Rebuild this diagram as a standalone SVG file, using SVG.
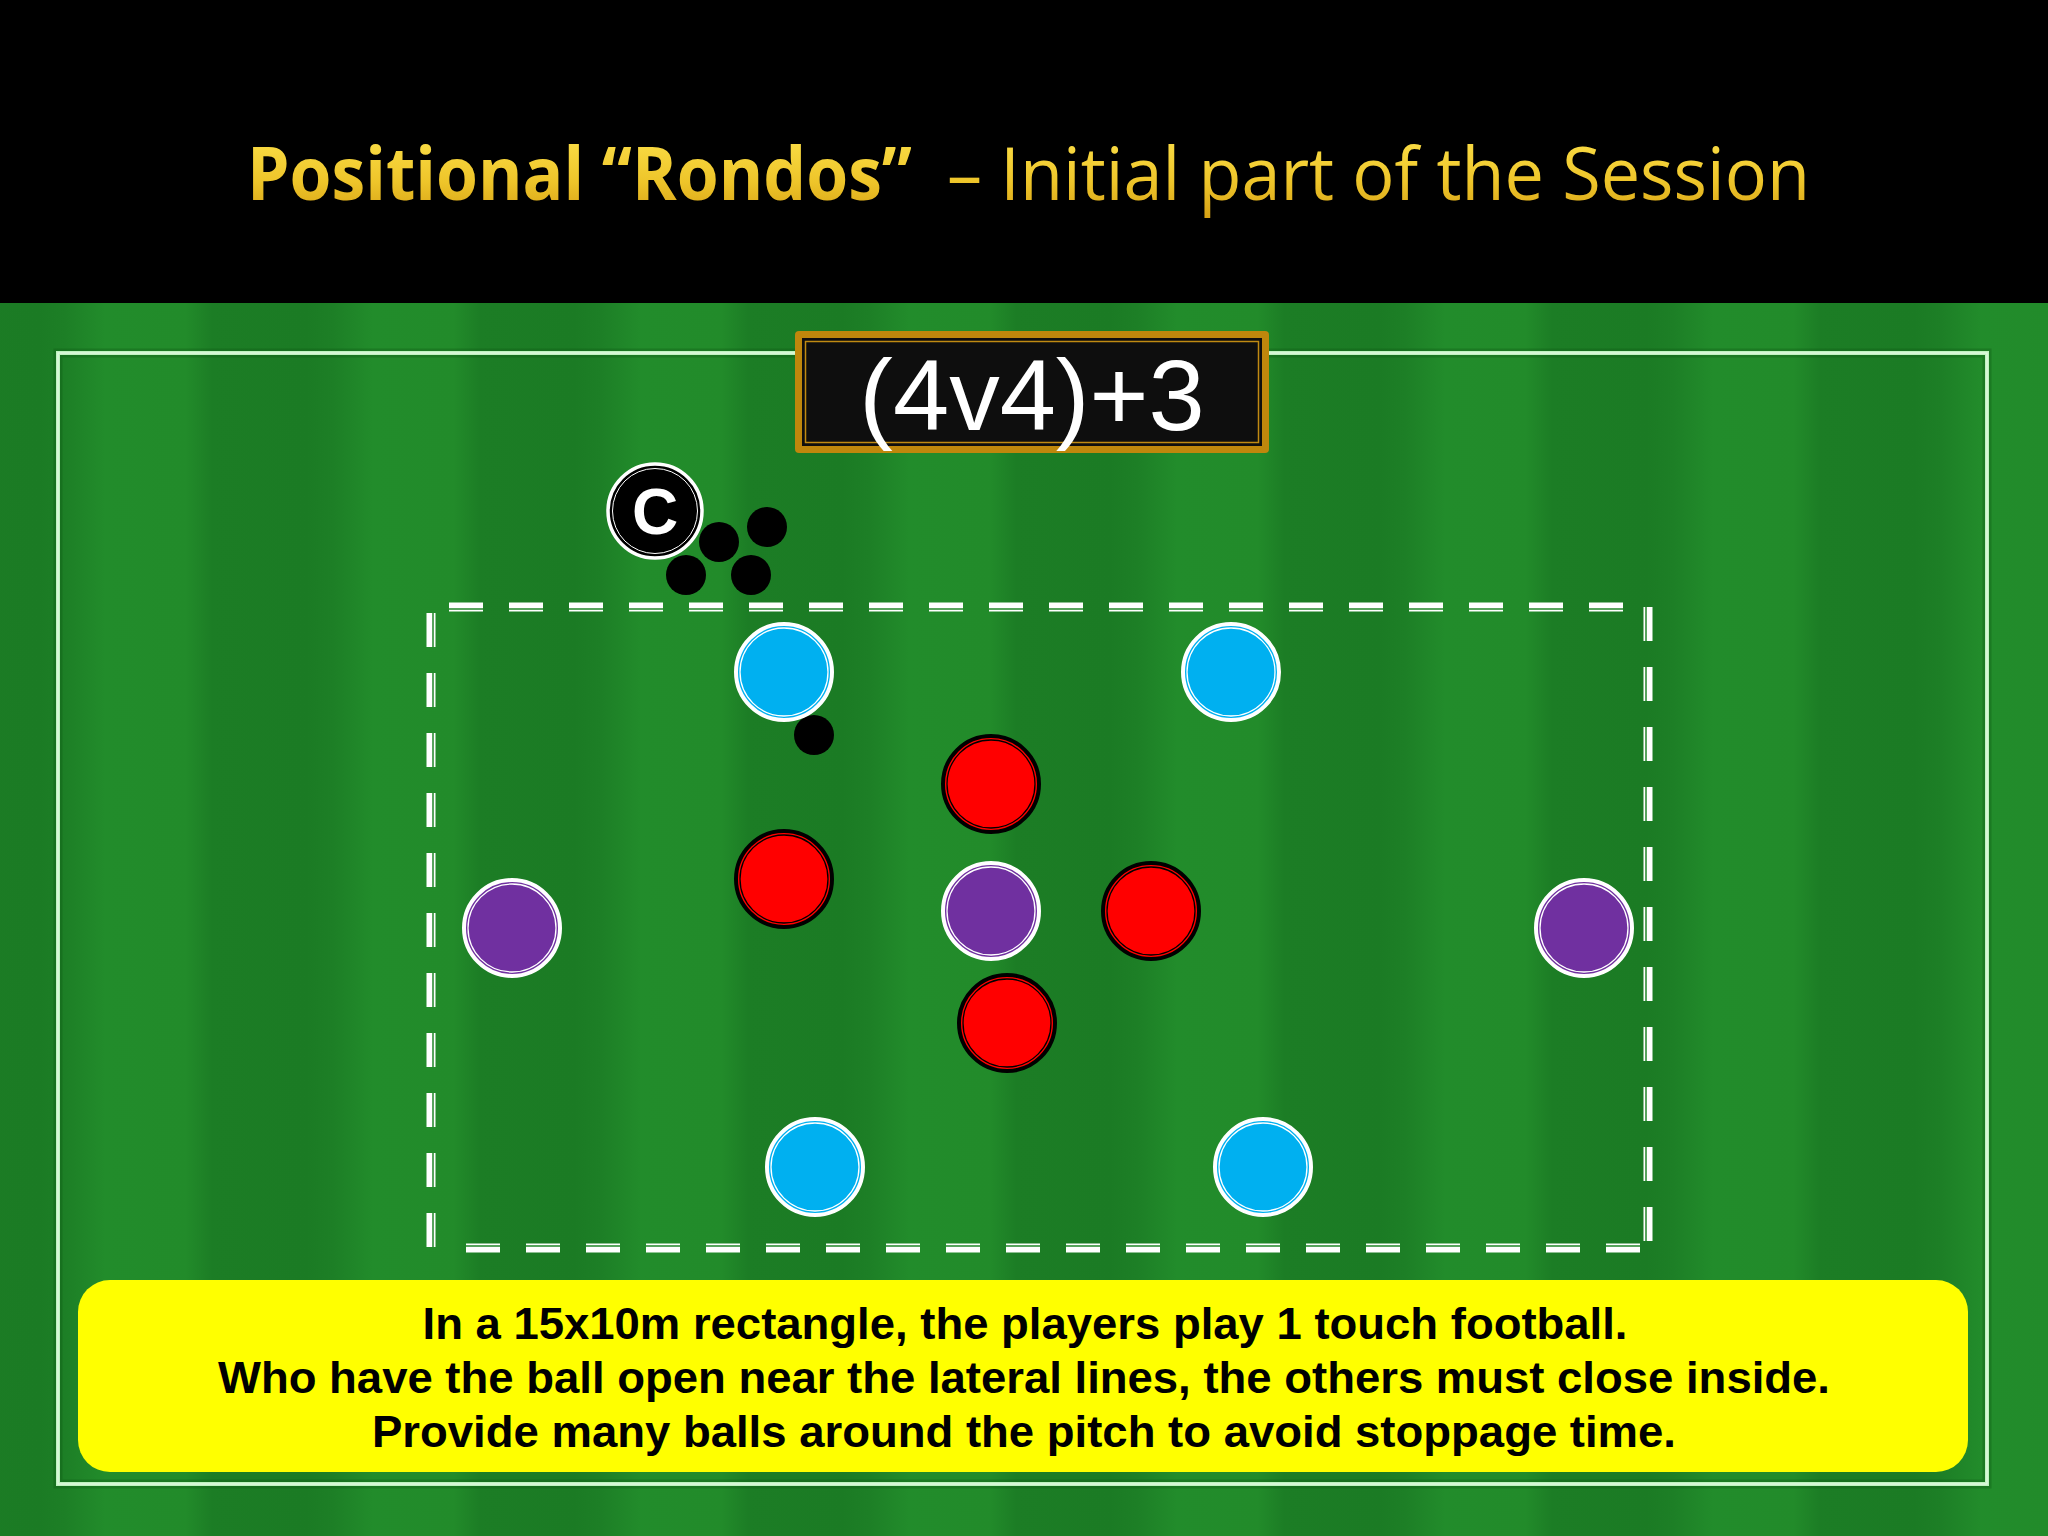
<svg xmlns="http://www.w3.org/2000/svg" width="2048" height="1536" viewBox="0 0 2048 1536">
  <defs>
    <linearGradient id="stripe" x1="0" y1="0" x2="1" y2="0">
      <stop offset="0" stop-color="#1d7f26"/>
      <stop offset="0.15" stop-color="#228c2b"/>
      <stop offset="0.45" stop-color="#228b2a"/>
      <stop offset="0.55" stop-color="#1c7d25"/>
      <stop offset="0.9" stop-color="#1b7b24"/>
      <stop offset="1" stop-color="#1d7f26"/>
    </linearGradient>
    <pattern id="grass" x="65" y="0" width="268" height="1536" patternUnits="userSpaceOnUse">
      <rect x="0" y="0" width="268" height="1536" fill="url(#stripe)"/>
    </pattern>
    <linearGradient id="gold" x1="0" y1="0" x2="0" y2="1">
      <stop offset="0" stop-color="#ffe650"/>
      <stop offset="0.6" stop-color="#eec52a"/>
      <stop offset="1" stop-color="#d49d12"/>
    </linearGradient>
    <style>
      .ttl { font-family: "Open Sans", "Noto Sans", "Liberation Sans", sans-serif; font-size: 74px; fill: url(#gold); }
      .dashW { stroke: #ffffff; stroke-width: 9; stroke-dasharray: 34 26; fill: none; }
      .dashG { stroke: #218729; stroke-width: 1.5; stroke-dasharray: 34 26; fill: none; }
      .pl-ring { stroke-width: 4; }
      .pl-inner { fill: none; stroke-width: 1.3; }
      .blue { fill: #00b0f0; stroke: #ffffff; }
      .purple { fill: #7030a0; stroke: #ffffff; }
      .red { fill: #ff0000; stroke: #000000; }
      .ball { fill: #000000; }
      .note { font-family: "Liberation Sans", Arial, sans-serif; font-weight: bold; font-size: 45px; fill: #000000; text-anchor: middle; }
    </style>
  </defs>

  <!-- pitch background -->
  <rect x="0" y="0" width="2048" height="1536" fill="url(#grass)"/>
  <!-- header -->
  <rect x="0" y="0" width="2048" height="303" fill="#000000"/>
  <g id="title">
    <text class="ttl" x="247" y="200" font-weight="bold" textLength="665" lengthAdjust="spacingAndGlyphs">Positional “Rondos”</text>
    <text class="ttl" x="947" y="200" textLength="863" lengthAdjust="spacingAndGlyphs">– Initial part of the Session</text>
  </g>

  <!-- outer pitch line -->
  <g id="pitch-line">
    <rect x="58" y="353" width="1929" height="1131" fill="none" stroke="#0f5a15" stroke-opacity="0.35" stroke-width="9"/>
    <rect x="58" y="353" width="1929" height="1131" fill="none" stroke="#bff3bf" stroke-width="4"/>
    <rect x="58" y="353" width="1929" height="1131" fill="none" stroke="#ffffff" stroke-opacity="0.6" stroke-width="1.2"/>
  </g>

  <!-- dashed 15x10m area -->
  <g id="area">
    <path class="dashW" d="M449 607 H1648"/>
    <path class="dashW" d="M1648 607 V1248"/>
    <path class="dashW" d="M466 1248 H1648"/>
    <path class="dashW" d="M431 1247 V607"/>
    <path class="dashG" d="M449 609 H1648"/>
    <path class="dashG" d="M1646 607 V1248"/>
    <path class="dashG" d="M466 1246 H1648"/>
    <path class="dashG" d="M433 1247 V607"/>
  </g>

  <!-- title label box -->
  <g id="label">
    <rect x="795" y="331" width="474" height="122" rx="4" fill="#bf870c"/>
    <rect x="802" y="338" width="460" height="108" fill="#0e0e0e"/>
    <rect x="805.5" y="341.5" width="453" height="101" fill="none" stroke="#c08a12" stroke-width="1.5"/>
    <text x="1032" y="430" font-family="Liberation Sans, Arial, sans-serif" font-size="101" fill="#ffffff" text-anchor="middle">(4v4)+3</text>
  </g>

  <!-- coach -->
  <g id="coach">
    <circle cx="655" cy="511" r="47" fill="#000000" stroke="#ffffff" stroke-width="3.5"/>
    <circle cx="655" cy="511" r="42.5" fill="none" stroke="#ffffff" stroke-width="1"/>
    <text x="655" y="534" font-family="Liberation Sans, Arial, sans-serif" font-weight="bold" font-size="64" fill="#ffffff" text-anchor="middle">C</text>
  </g>

  <!-- balls -->
  <g id="balls">
    <circle class="ball" cx="767" cy="527" r="20"/>
    <circle class="ball" cx="719" cy="542" r="20"/>
    <circle class="ball" cx="686" cy="575" r="20"/>
    <circle class="ball" cx="751" cy="575" r="20"/>
    <circle class="ball" cx="814" cy="735" r="20"/>
  </g>

  <!-- blue players -->
  <g id="blue1"><circle class="pl-ring blue" cx="784" cy="672" r="48"/><circle class="pl-inner" stroke="#ffffff" cx="784" cy="672" r="44"/></g>
  <g id="blue2"><circle class="pl-ring blue" cx="1231" cy="672" r="48"/><circle class="pl-inner" stroke="#ffffff" cx="1231" cy="672" r="44"/></g>
  <g id="blue3"><circle class="pl-ring blue" cx="815" cy="1167" r="48"/><circle class="pl-inner" stroke="#ffffff" cx="815" cy="1167" r="44"/></g>
  <g id="blue4"><circle class="pl-ring blue" cx="1263" cy="1167" r="48"/><circle class="pl-inner" stroke="#ffffff" cx="1263" cy="1167" r="44"/></g>

  <!-- purple players -->
  <g id="purple1"><circle class="pl-ring purple" cx="512" cy="928" r="48"/><circle class="pl-inner" stroke="#ffffff" cx="512" cy="928" r="44"/></g>
  <g id="purple2"><circle class="pl-ring purple" cx="991" cy="911" r="48"/><circle class="pl-inner" stroke="#ffffff" cx="991" cy="911" r="44"/></g>
  <g id="purple3"><circle class="pl-ring purple" cx="1584" cy="928" r="48"/><circle class="pl-inner" stroke="#ffffff" cx="1584" cy="928" r="44"/></g>

  <!-- red players -->
  <g id="red1"><circle class="pl-ring red" cx="991" cy="784" r="48"/><circle class="pl-inner" stroke="#000000" cx="991" cy="784" r="44"/></g>
  <g id="red2"><circle class="pl-ring red" cx="784" cy="879" r="48"/><circle class="pl-inner" stroke="#000000" cx="784" cy="879" r="44"/></g>
  <g id="red3"><circle class="pl-ring red" cx="1151" cy="911" r="48"/><circle class="pl-inner" stroke="#000000" cx="1151" cy="911" r="44"/></g>
  <g id="red4"><circle class="pl-ring red" cx="1007" cy="1023" r="48"/><circle class="pl-inner" stroke="#000000" cx="1007" cy="1023" r="44"/></g>

  <!-- description box -->
  <g id="note">
    <rect x="78" y="1280" width="1890" height="192" rx="32" fill="#ffff00"/>
    <text class="note" x="1025" y="1339" textLength="1205" lengthAdjust="spacingAndGlyphs">In a 15x10m rectangle, the players play 1 touch football.</text>
    <text class="note" x="1024" y="1393" textLength="1612" lengthAdjust="spacingAndGlyphs">Who have the ball open near the lateral lines, the others must close inside.</text>
    <text class="note" x="1024" y="1447" textLength="1304" lengthAdjust="spacingAndGlyphs">Provide many balls around the pitch to avoid stoppage time.</text>
  </g>
</svg>
